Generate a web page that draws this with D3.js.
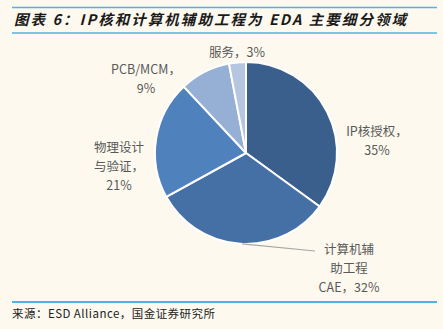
<!DOCTYPE html>
<html>
<head>
<meta charset="utf-8">
<script src="https://cdn.jsdelivr.net/npm/d3@7/dist/d3.min.js"></script>
<style>
  html, body { margin: 0; padding: 0; background: #fdf9ef; }
  svg { display: block; }
  text { font-family: "Noto Sans CJK SC", "DejaVu Sans", sans-serif; }
</style>
</head>
<body>
<svg id="chart" width="443" height="329"></svg>
<script>
// EDA market segments, share in %
var categories = ["IP核授权", "计算机辅助工程CAE", "物理设计与验证", "PCB/MCM", "服务"];
var shares = [35, 32, 21, 9, 3];
var colors = ["#3a5f8d", "#4470a5", "#4f81bd", "#95afd5", "#b7c6e0"];
// label text, split into lines
var labelLines = [
    ["IP核授权，", "35%"],
    ["计算机辅", "助工程", "CAE，32%"],
    ["物理设计", "与验证，", "21%"],
    ["PCB/MCM，", "9%"],
    ["服务，3%"]
];

var title = "图表 6：IP核和计算机辅助工程为 EDA 主要细分领域";
var source = "来源：ESD Alliance，国金证券研究所";

var svg = d3.select("#chart");

// header rules + title
svg.append("line").attr("x1", 12).attr("x2", 437).attr("y1", 7.5).attr("y2", 7.5)
    .attr("stroke", "#4fb3e3").attr("stroke-width", 1.5);
svg.append("line").attr("x1", 12).attr("x2", 437).attr("y1", 33).attr("y2", 33)
    .attr("stroke", "#4fb3e3").attr("stroke-width", 1.5);
svg.append("text")
    .attr("x", 14).attr("y", 25)
    .attr("font-size", 14.5)
    .attr("font-weight", 600)
    .attr("font-style", "italic")
    .attr("fill", "#1a1a1a")
    .attr("textLength", 392)
    .text(title);

// footer
svg.append("line").attr("x1", 12).attr("x2", 437).attr("y1", 302).attr("y2", 302)
    .attr("stroke", "#4fb3e3").attr("stroke-width", 2);
svg.append("text")
    .attr("x", 12).attr("y", 317.5)
    .attr("font-size", 11.5)
    .attr("fill", "#222")
    .attr("textLength", 203)
    .text(source);

// pie
var cx = 246, cy = 153, radius = 91;
var pie = d3.pie().sort(null).value(d => d);
var arc = d3.arc().innerRadius(0).outerRadius(radius);
var arcs = pie(shares);

var g = svg.append("g").attr("transform", "translate(" + cx + "," + cy + ")");
g.selectAll("path")
    .data(arcs)
    .enter()
    .append("path")
    .attr("d", arc)
    .attr("fill", (d, i) => colors[i])
    .attr("stroke", "#ffffff")
    .attr("stroke-width", 2)
    .attr("stroke-linejoin", "round");

// label anchors (centre of first line), relative to pie centre
var labelAt = [
    [131, -22],
    [103, 96],
    [-127, -6],
    [-100, -84],
    [-9, -101]
];
var lineGap = 19;

labelLines.forEach(function(lines, i) {
    var t = svg.append("text")
        .attr("text-anchor", "middle")
        .attr("font-size", 12.5)
        .attr("fill", "#595959");
    lines.forEach(function(s, k) {
        t.append("tspan")
            .attr("x", cx + labelAt[i][0])
            .attr("y", cy + labelAt[i][1] + k * lineGap + 4.5)
            .text(s);
    });
});

// leader line for the CAE slice
var a = arcs[1].startAngle + (arcs[1].endAngle - arcs[1].startAngle) * 0.49;
var px = Math.sin(a) * radius, py = -Math.cos(a) * radius;
g.append("polyline")
    .attr("points", [[px, py], [69, 98]].map(p => p.join(",")).join(" "))
    .attr("fill", "none")
    .attr("stroke", "#a6a6a6")
    .attr("stroke-width", 1.2);
</script>
</body>
</html>
